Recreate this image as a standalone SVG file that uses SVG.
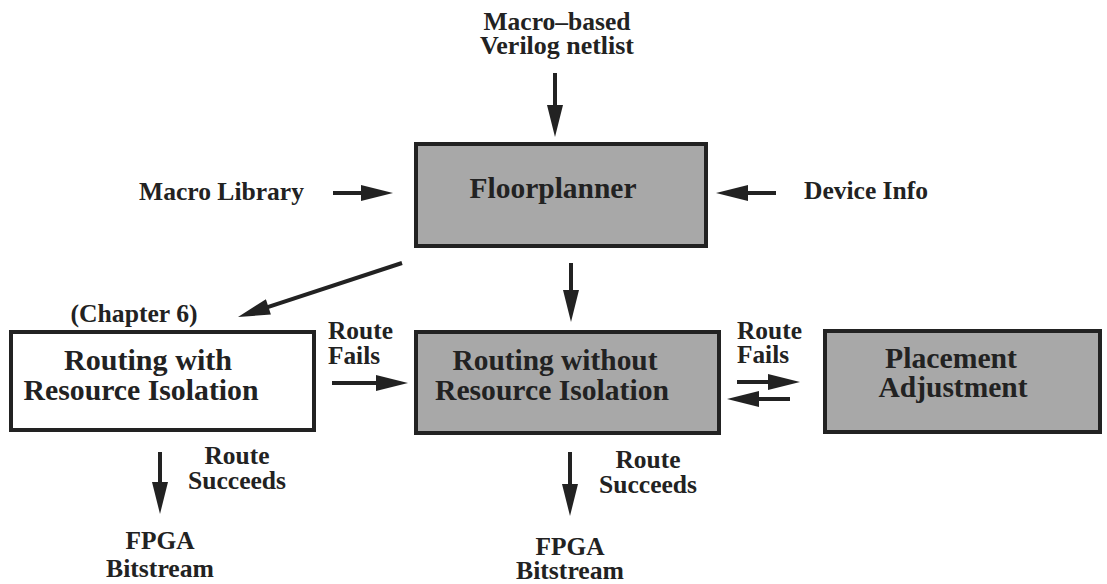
<svg xmlns="http://www.w3.org/2000/svg" width="1107" height="584" viewBox="0 0 1107 584">
<style>
text{font-family:'Liberation Serif','DejaVu Serif Condensed','DejaVu Serif',serif;font-weight:bold;fill:#222}
.box{font-size:30px}
.lbl{font-size:25.5px}
.shade{fill:#a8a8a8;stroke:#222;stroke-width:4}
.plain{fill:#fff;stroke:#222;stroke-width:4}
.arr{stroke:#222;stroke-width:4;fill:none;marker-end:url(#ah)}
</style>
<defs>
<marker id="ah" markerUnits="strokeWidth" markerWidth="8" markerHeight="4" refX="3" refY="2" orient="auto" overflow="visible">
<path d="M0,0 L8,2 L0,4 z" fill="#222"/>
</marker>
</defs>
<g id="input-netlist">
<text class="lbl" x="557" y="30" text-anchor="middle" textLength="147" lengthAdjust="spacingAndGlyphs">Macro–based</text>
<text class="lbl" x="557" y="54" text-anchor="middle" textLength="154" lengthAdjust="spacingAndGlyphs">Verilog netlist</text>
</g>
<g id="macro-library"><text class="lbl" x="139" y="200" textLength="165" lengthAdjust="spacingAndGlyphs">Macro Library</text></g>
<g id="device-info"><text class="lbl" x="804" y="199" textLength="124" lengthAdjust="spacingAndGlyphs">Device Info</text></g>
<g id="floorplanner">
<rect class="shade" x="416" y="144" width="290" height="102"/>
<text class="box" x="553" y="198" text-anchor="middle" textLength="167" lengthAdjust="spacingAndGlyphs">Floorplanner</text>
</g>
<g id="routing-with">
<text class="lbl" x="134" y="322" text-anchor="middle" textLength="127" lengthAdjust="spacingAndGlyphs">(Chapter 6)</text>
<rect class="plain" x="11" y="332" width="303" height="98"/>
<text class="box" x="148" y="370" text-anchor="middle" textLength="168" lengthAdjust="spacingAndGlyphs">Routing with</text>
<text class="box" x="141" y="400" text-anchor="middle" textLength="235" lengthAdjust="spacingAndGlyphs">Resource Isolation</text>
</g>
<g id="routing-without">
<rect class="shade" x="416" y="332" width="303" height="101"/>
<text class="box" x="555" y="370" text-anchor="middle" textLength="205" lengthAdjust="spacingAndGlyphs">Routing without</text>
<text class="box" x="552" y="400" text-anchor="middle" textLength="234" lengthAdjust="spacingAndGlyphs">Resource Isolation</text>
</g>
<g id="placement-adjustment">
<rect class="shade" x="825" y="331" width="275" height="101"/>
<text class="box" x="951" y="368" text-anchor="middle" textLength="132" lengthAdjust="spacingAndGlyphs">Placement</text>
<text class="box" x="953" y="397" text-anchor="middle" textLength="149" lengthAdjust="spacingAndGlyphs">Adjustment</text>
</g>
<g id="bitstream-1">
<text class="lbl" x="160" y="549" text-anchor="middle" textLength="69" lengthAdjust="spacingAndGlyphs">FPGA</text>
<text class="lbl" x="160" y="577" text-anchor="middle" textLength="108" lengthAdjust="spacingAndGlyphs">Bitstream</text>
</g>
<g id="bitstream-2">
<text class="lbl" x="570" y="555" text-anchor="middle" textLength="69" lengthAdjust="spacingAndGlyphs">FPGA</text>
<text class="lbl" x="570" y="579" text-anchor="middle" textLength="108" lengthAdjust="spacingAndGlyphs">Bitstream</text>
</g>
<g id="connectors">
<line class="arr" x1="555" y1="73" x2="555" y2="117"/>
<line class="arr" x1="333" y1="193" x2="373" y2="193"/>
<line class="arr" x1="776" y1="193" x2="736" y2="193"/>
<line class="arr" x1="571" y1="263" x2="571" y2="302"/>
<line class="arr" x1="402" y1="263" x2="257" y2="310.7"/>
<line class="arr" x1="332" y1="383" x2="388" y2="383"/>
<line class="arr" x1="737" y1="382" x2="780" y2="382"/>
<line class="arr" x1="790" y1="399" x2="747" y2="399"/>
<line class="arr" x1="160" y1="452" x2="160" y2="494"/>
<line class="arr" x1="570" y1="452" x2="570" y2="496"/>
<text class="lbl" x="328" y="339" textLength="65" lengthAdjust="spacingAndGlyphs">Route</text>
<text class="lbl" x="328" y="364" textLength="52" lengthAdjust="spacingAndGlyphs">Fails</text>
<text class="lbl" x="737" y="339" textLength="65" lengthAdjust="spacingAndGlyphs">Route</text>
<text class="lbl" x="737" y="363" textLength="52" lengthAdjust="spacingAndGlyphs">Fails</text>
<text class="lbl" x="237" y="464" text-anchor="middle" textLength="65" lengthAdjust="spacingAndGlyphs">Route</text>
<text class="lbl" x="237" y="489" text-anchor="middle" textLength="98" lengthAdjust="spacingAndGlyphs">Succeeds</text>
<text class="lbl" x="648" y="468" text-anchor="middle" textLength="65" lengthAdjust="spacingAndGlyphs">Route</text>
<text class="lbl" x="648" y="493" text-anchor="middle" textLength="98" lengthAdjust="spacingAndGlyphs">Succeeds</text>
</g>
</svg>
